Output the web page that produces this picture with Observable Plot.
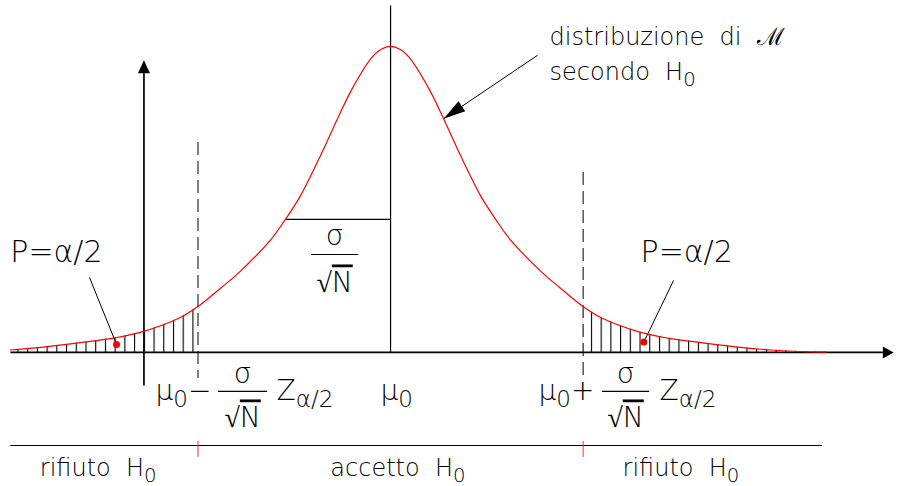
<!DOCTYPE html>
<html>
<head>
<meta charset="utf-8">
<script src="https://cdn.jsdelivr.net/npm/d3@7"></script>
<script src="https://cdn.jsdelivr.net/npm/@observablehq/plot@0.6"></script>
<style>
  html, body { margin: 0; padding: 0; background: #fff; }
  #chart svg { display: block; }
</style>
</head>
<body>
<div id="chart"></div>
<script>
// Sampling distribution of the mean under H0 (standardised units, peak = 1)
const curveZ = [-3.87, -3.59, -3.16, -2.82, -2.52, -2.14, -1.96, -1.73, -1.53, -1.22, -1.07, -0.92, -0.71, -0.54, -0.39, -0.20, -0.10, 0,
                0.10, 0.20, 0.39, 0.54, 0.71, 0.92, 1.07, 1.22, 1.53, 1.73, 1.96, 2.14, 2.52, 2.82, 3.16, 3.59, 3.87, 4.10, 4.43];
const curveP = [0.008, 0.0155, 0.032, 0.047, 0.068, 0.114, 0.150, 0.210, 0.265, 0.368, 0.435, 0.510, 0.645, 0.764, 0.862, 0.960, 0.990, 1,
                0.990, 0.960, 0.862, 0.764, 0.645, 0.510, 0.435, 0.368, 0.265, 0.210, 0.150, 0.114, 0.068, 0.047, 0.032, 0.0155, 0.008, 0.004, 0.001];

// critical value z(α/2)
const zCrit = 1.96;

// plot frame in the same units
const xDomain = [-3.97, 5.19];
const yDomain = [-0.438, 1.150];
const W = 900, H = 486;

// axes
const axes = [
  {x1: -3.87, y1: 0, x2: 5.01, y2: 0},          // horizontal axis
  {x1: -2.51, y1: -0.108, x2: -2.51, y2: 0.912}  // vertical axis
];
// other solid construction lines
const lines = [
  {x1: 0, y1: 1.134, x2: 0, y2: 0},              // mean μ0
  {x1: -1.07, y1: 0.435, x2: 0, y2: 0.435},      // σ/√N marker
  {x1: -3.87, y1: -0.304, x2: 4.39, y2: -0.304}  // decision bar
];
// dashed critical limits
const limits = [
  {x: -zCrit, y1: 0.686, y2: -0.085},
  {x: zCrit, y1: 0.588, y2: -0.085}
];
// red ticks on the decision bar
const ticks = [
  {x: -zCrit, y1: -0.291, y2: -0.343},
  {x: zCrit, y1: -0.291, y2: -0.343}
];
// leaders from the P labels to the tails
const leaders = [
  {x1: -3.064, y1: 0.245, x2: -2.789, y2: 0.026},
  {x1: 2.880, y1: 0.235, x2: 2.578, y2: 0.034}
];
// arrow pointing at the curve
const pointer = {x1: 1.496, y1: 0.971, x2: 0.54, y2: 0.764};

// arrowheads on the axes
const heads = [
  {x: 5.01, y: 0, rotate: 90, length: 19},
  {x: -2.51, y: 0.912, rotate: 0, length: 23}
];

// labels
const labelsLarge = [
  {x: -3.87, y: 0.297, text: "P=α/2"},
  {x: 2.545, y: 0.294, text: "P=α/2"}
];
const labelsTitle = [
  {x: 1.618, y: 1.003, text: "distribuzione  di  ℳ"},
  {x: 1.618, y: 0.889, text: "secondo  H_{0}"}
];
const labelsBottom = [
  {x: -3.57, y: -0.405, text: "rifiuto  H_{0}"},
  {x: -0.613, y: -0.405, text: "accetto  H_{0}"},
  {x: 2.361, y: -0.405, text: "rifiuto  H_{0}"}
];
const labelsMath = [
  {x: -2.392, y: -0.154, text: "μ_{0}−"},
  {x: -1.160, y: -0.154, text: "Z_{α/2}"},
  {x: -0.102, y: -0.154, text: "μ_{0}"},
  {x: 1.506, y: -0.154, text: "μ_{0}+"},
  {x: 2.738, y: -0.154, text: "Z_{α/2}"}
];
// σ/√N fractions: centre, numerator and denominator baselines, bar height and half-width
const fractions = [
  {x: -0.57, num: 0.350, bar: 0.320, den: 0.196, half: 0.24},
  {x: -1.506, num: -0.101, bar: -0.127, den: -0.245, half: 0.25},
  {x: 2.392, num: -0.101, bar: -0.127, den: -0.245, half: 0.24}
];

const curve = curveZ.map((z, i) => ({z, p: curveP[i]}));
const leftTail = curve.filter(d => d.z <= -zCrit);
const rightTail = curve.filter(d => d.z >= zCrit);
const kx = W / (xDomain[1] - xDomain[0]);
const ky = H / (yDomain[1] - yDomain[0]);
const pointerAngle = Math.atan2((pointer.x2 - pointer.x1) * kx, (pointer.y2 - pointer.y1) * ky) * 180 / Math.PI;

const font = "DejaVu Sans";
const textStyle = {fontFamily: font, fontWeight: 200, fill: "black", textAnchor: "start", lineAnchor: "bottom"};
const curveType = "catmull-rom";

const plot = Plot.plot({
  width: W,
  height: H,
  margin: 0,
  style: {background: "white", fontFamily: font},
  x: {domain: xDomain, axis: null},
  y: {domain: yDomain, axis: null},
  marks: [
    // hatched rejection regions
    Plot.areaY(leftTail, {x: "z", y: "p", fill: "url(#hatch)", curve: curveType}),
    Plot.areaY(rightTail, {x: "z", y: "p", fill: "url(#hatch)", curve: curveType}),
    Plot.link(axes, {x1: "x1", y1: "y1", x2: "x2", y2: "y2", stroke: "black", strokeWidth: 1.7}),
    Plot.link(lines, {x1: "x1", y1: "y1", x2: "x2", y2: "y2", stroke: "black", strokeWidth: 1.2}),
    Plot.ruleX(limits, {x: "x", y1: "y1", y2: "y2", stroke: "black", strokeWidth: 1, strokeDasharray: "13,6"}),
    Plot.ruleX(ticks, {x: "x", y1: "y1", y2: "y2", stroke: "#ff3030", strokeWidth: 1}),
    Plot.link(leaders, {x1: "x1", y1: "y1", x2: "x2", y2: "y2", stroke: "black", strokeWidth: 1}),
    Plot.link([pointer], {x1: "x1", y1: "y1", x2: "x2", y2: "y2", stroke: "black", strokeWidth: 1}),
    Plot.vector([pointer], {x: "x2", y: "y2", rotate: pointerAngle, length: 22, r: 6, shape: "spike", anchor: "end", fill: "black", stroke: "none"}),
    Plot.vector(heads, {x: "x", y: "y", rotate: d => d.rotate, length: d => d.length, r: 6, shape: "spike", anchor: "start", fill: "black", stroke: "none"}),
    // the distribution curve
    Plot.line(curve, {x: "z", y: "p", stroke: "#ff0000", strokeWidth: 1.2, curve: curveType}),
    Plot.dot(leaders, {x: "x2", y: "y2", r: 3.5, fill: "#ff0000", stroke: "none"}),
    // fraction bars
    Plot.link(fractions, {x1: d => d.x - d.half, x2: d => d.x + d.half, y1: "bar", y2: "bar", stroke: "black", strokeWidth: 1.2}),
    Plot.text(fractions, {x: "x", y: "num", text: () => "σ", fontSize: 28, ...textStyle, textAnchor: "middle"}),
    Plot.text(fractions, {x: "x", y: "den", text: () => "√N", fontSize: 28, ...textStyle, textAnchor: "middle"}),
    Plot.text(labelsLarge, {x: "x", y: "y", text: "text", fontSize: 30, ...textStyle}),
    Plot.text(labelsTitle, {x: "x", y: "y", text: "text", fontSize: 24, ...textStyle, letterSpacing: 0.5}),
    Plot.text(labelsBottom, {x: "x", y: "y", text: "text", fontSize: 24, ...textStyle, letterSpacing: 2.5}),
    Plot.text(labelsMath, {x: "x", y: "y", text: "text", fontSize: 28, ...textStyle})
  ]
});

// hatch pattern for the tails
const ns = "http://www.w3.org/2000/svg";
const svg = plot.tagName === "svg" ? plot : plot.querySelector("svg");
const defs = d3.select(svg).insert("defs", ":first-child");
defs.append("pattern")
  .attr("id", "hatch")
  .attr("patternUnits", "userSpaceOnUse")
  .attr("width", 9.72)
  .attr("height", 10)
  .attr("x", 7.7)
  .append("line")
  .attr("x1", 0.5).attr("x2", 0.5).attr("y1", 0).attr("y2", 10)
  .attr("stroke", "black").attr("stroke-width", 1.2);

// subscripts written as _{…}, overbar for the radicand after √
svg.querySelectorAll("text").forEach(t => {
  const s = t.textContent;
  if (!s.includes("_{") && !s.startsWith("√")) return;
  const size = parseFloat(t.getAttribute("font-size")) || parseFloat(t.parentNode.getAttribute("font-size")) || 24;
  const shift = Math.round(size * 0.26);
  t.textContent = "";
  if (s.startsWith("√")) {
    const a = document.createElementNS(ns, "tspan");
    a.textContent = "√";
    const b = document.createElementNS(ns, "tspan");
    b.textContent = s.slice(1);
    b.style.textDecoration = "overline";
    t.append(a, b);
    return;
  }
  let down = false;
  s.split(/(_\{[^}]*\})/).forEach(part => {
    if (!part) return;
    const ts = document.createElementNS(ns, "tspan");
    if (part.startsWith("_{")) {
      ts.textContent = part.slice(2, -1);
      ts.setAttribute("font-size", size * 0.82);
      ts.setAttribute("dy", shift);
      down = true;
    } else {
      ts.textContent = part;
      if (down) { ts.setAttribute("dy", -shift); down = false; }
    }
    t.appendChild(ts);
  });
});

document.getElementById("chart").appendChild(plot);
</script>
</body>
</html>
